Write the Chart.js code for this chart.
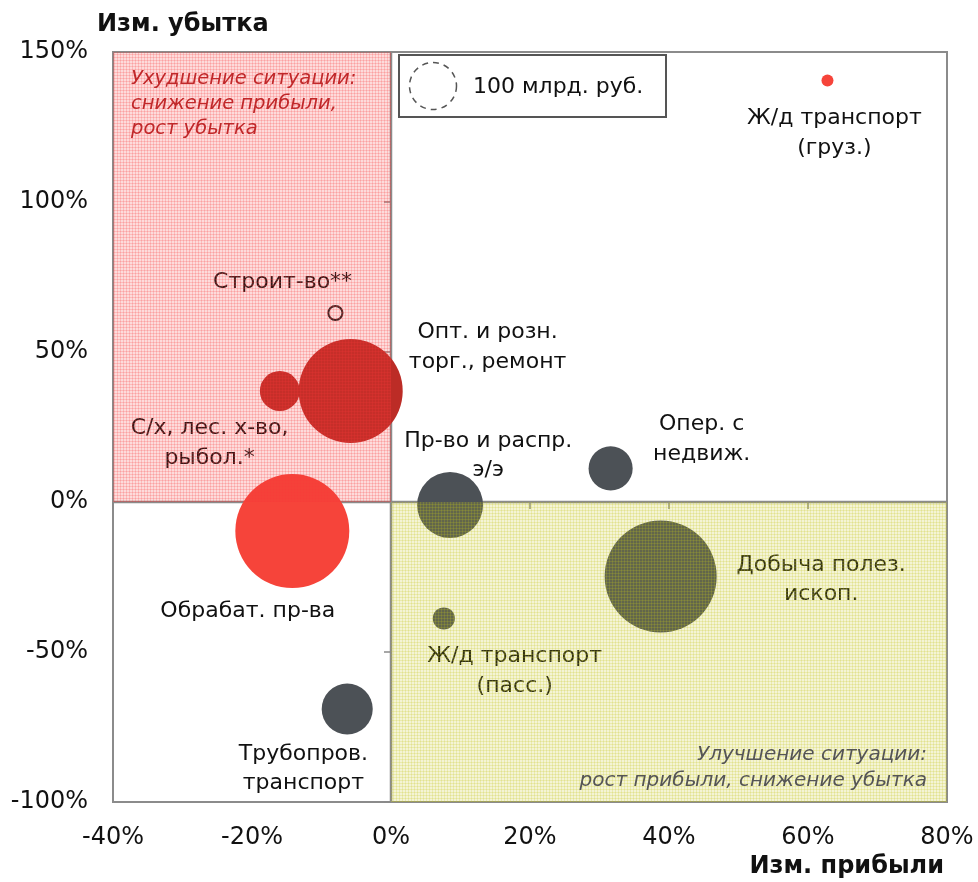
<!DOCTYPE html>
<html>
<head>
<meta charset="utf-8">
<script src="https://cdn.jsdelivr.net/npm/chart.js@4.4.1/dist/chart.umd.min.js"></script>
<style>
  html, body { margin: 0; padding: 0; background: #fff; }
</style>
</head>
<body>
<canvas id="chart" width="978" height="882"></canvas>
<script>
// Data
const sectors = ['Ж/д транспорт (груз.)', 'Строит-во**', 'Опт. и розн. торг., ремонт', 'С/х, лес. х-во, рыбол.*',
    'Обрабат. пр-ва', 'Пр-во и распр. э/э', 'Опер. с недвиж.', 'Добыча полез. ископ.',
    'Ж/д транспорт (пасс.)', 'Трубопров. транспорт'];
const profitChange = [62.8, -8.0, -5.8, -16.0, -14.2, 8.5, 31.6, 38.8, 7.6, -6.3];   // %
const lossChange = [140.5, 63, 37, 37, -9.7, -1, 11.2, -24.8, -38.8, -69];           // %
const lossVolume = [6.5, 9, 490, 72, 588, 197, 88, 568, 22, 118];                     // млрд. руб.
const sectorGroup = ['bright', 'hollow', 'dark', 'dark', 'bright', 'gray', 'gray', 'gray', 'gray', 'gray'];
const xTicks = [-40, -20, 0, 20, 40, 60, 80];
const yTicks = [-100, -50, 0, 50, 100, 150];
const legendValue = 100;

// Label lines and where they sit (data units)
const labelLines = [
    ['Ж/д транспорт', '(груз.)'],
    ['Строит-во**'],
    ['Опт. и розн.', 'торг., ремонт'],
    ['С/х, лес. х-во,', 'рыбол.*'],
    ['Обрабат. пр-ва'],
    ['Пр-во и распр.', 'э/э'],
    ['Опер. с', 'недвиж.'],
    ['Добыча полез.', 'ископ.'],
    ['Ж/д транспорт', '(пасс.)'],
    ['Трубопров.', 'транспорт']
];
const labelPos = [
    [63.8, 123.5], [-15.6, 74], [13.9, 52.3], [-26.1, 20.3], [-20.6, -35.7],
    [14.0, 16], [44.7, 21.5], [61.9, -25.2], [17.8, -55.8], [-12.6, -88.2]
];

// Styles
const FONT = "'DejaVu Sans', 'Noto Sans', sans-serif";
const colors = { bright: '#f6443a', dark: '#bc2c26', gray: '#4c5156', hollow: '#ffffff' };
const PX_PER_100 = 23.5; // bubble radius for 100 млрд. руб.
const radiusFor = v => PX_PER_100 * Math.sqrt(v / legendValue);

function makePattern(base, line) {
    const c = document.createElement('canvas');
    c.width = 3; c.height = 3;
    const g = c.getContext('2d');
    g.fillStyle = base;
    g.fillRect(0, 0, 3, 3);
    g.fillStyle = line;
    g.fillRect(0, 0, 3, 1);
    g.fillRect(0, 0, 1, 3);
    return g.createPattern(c, 'repeat');
}

const decorPlugin = {
    id: 'decor',
    beforeDatasetsDraw(chart) {
        const { ctx, chartArea: a, scales: { x, y } } = chart;
        const x0 = x.getPixelForValue(0), y0 = y.getPixelForValue(0);
        ctx.save();
        ctx.strokeStyle = '#8b8b8b';
        ctx.lineWidth = 2;
        ctx.strokeRect(a.left, a.top, a.right - a.left, a.bottom - a.top);
        ctx.lineWidth = 2.5;
        ctx.beginPath();
        ctx.moveTo(x0, a.top); ctx.lineTo(x0, a.bottom);
        ctx.moveTo(a.left, y0); ctx.lineTo(a.right, y0);
        ctx.stroke();
        ctx.lineWidth = 1.5;
        ctx.beginPath();
        yTicks.forEach(v => { const p = y.getPixelForValue(v); ctx.moveTo(x0 - 7, p); ctx.lineTo(x0, p); });
        xTicks.forEach(v => { const p = x.getPixelForValue(v); ctx.moveTo(p, y0); ctx.lineTo(p, y0 + 7); });
        ctx.stroke();
        ctx.restore();
    },
    afterDatasetsDraw(chart) {
        const { ctx, chartArea: a, scales: { x, y } } = chart;
        const x0 = x.getPixelForValue(0), y0 = y.getPixelForValue(0);

        // sector labels
        ctx.save();
        ctx.font = '22px ' + FONT;
        ctx.fillStyle = '#111';
        ctx.textAlign = 'center';
        ctx.textBaseline = 'middle';
        labelLines.forEach((lines, i) => {
            const px = x.getPixelForValue(labelPos[i][0]);
            const py = y.getPixelForValue(labelPos[i][1]) + 2;
            lines.forEach((t, k) => ctx.fillText(t, px, py + (k - (lines.length - 1) / 2) * 29.5));
        });

        // shaded quadrants drawn over the bubbles
        ctx.fillStyle = makePattern('rgba(245,55,55,0.18)', 'rgba(245,55,55,0.2)');
        ctx.fillRect(a.left, a.top, x0 - a.left, y0 - a.top);
        ctx.fillStyle = makePattern('rgba(195,195,30,0.19)', 'rgba(195,195,30,0.21)');
        ctx.fillRect(x0, y0, a.right - x0, a.bottom - y0);

        // quadrant notes
        ctx.font = 'italic 19.5px ' + FONT;
        ctx.textAlign = 'left';
        ctx.fillStyle = '#c0282a';
        ['Ухудшение ситуации:', 'снижение прибыли,', 'рост убытка'].forEach((t, k) => ctx.fillText(t, a.left + 18, 79 + k * 25));
        ctx.font = 'italic 20px ' + FONT;
        ctx.textAlign = 'right';
        ctx.fillStyle = '#555';
        ['Улучшение ситуации:', 'рост прибыли, снижение убытка'].forEach((t, k) => ctx.fillText(t, a.right - 20, 755 + k * 26));

        // size legend
        ctx.fillStyle = '#fff';
        ctx.fillRect(399, 55, 267, 62);
        ctx.strokeStyle = '#555';
        ctx.lineWidth = 2;
        ctx.strokeRect(399, 55, 267, 62);
        ctx.setLineDash([6, 5]);
        ctx.lineWidth = 1.5;
        ctx.beginPath();
        ctx.arc(433, 86, radiusFor(legendValue), 0, Math.PI * 2);
        ctx.stroke();
        ctx.setLineDash([]);
        ctx.fillStyle = '#111';
        ctx.textAlign = 'left';
        ctx.font = '22px ' + FONT;
        ctx.fillText(legendValue + ' млрд. руб.', 473, 87);

        // axis titles
        ctx.font = 'bold 24px ' + FONT;
        ctx.fillText('Изм. убытка', 97, 25);
        ctx.textAlign = 'right';
        ctx.fillText('Изм. прибыли', 944, 867);
        ctx.restore();
    }
};

const points = sectors.map((s, i) => ({ x: profitChange[i], y: lossChange[i], r: radiusFor(lossVolume[i]) }));

new Chart(document.getElementById('chart'), {
    type: 'bubble',
    data: {
        datasets: [{
            label: 'Отрасли',
            data: points,
            backgroundColor: sectorGroup.map(g => colors[g]),
            borderColor: sectorGroup.map(g => g === 'hollow' ? '#222' : colors[g]),
            borderWidth: sectorGroup.map(g => g === 'hollow' ? 2 : 0),
            clip: false
        }]
    },
    options: {
        responsive: false,
        animation: false,
        layout: { autoPadding: false, padding: { top: 52, right: 31, bottom: 0, left: 0 } },
        plugins: {
            legend: { display: false },
            tooltip: { enabled: false }
        },
        scales: {
            x: {
                type: 'linear',
                min: -40,
                max: 80,
                afterBuildTicks: s => { s.ticks = xTicks.map(v => ({ value: v })); },
                afterFit: s => { s.height = 80; s.paddingLeft = 0; s.paddingRight = 0; },
                grid: { display: false, drawTicks: false },
                border: { display: false },
                ticks: {
                    callback: v => v + '%',
                    color: '#111',
                    font: { family: FONT, size: 24 },
                    padding: 21,
                    maxRotation: 0
                }
            },
            y: {
                type: 'linear',
                min: -100,
                max: 150,
                afterBuildTicks: s => { s.ticks = yTicks.map(v => ({ value: v })); },
                afterFit: s => { s.width = 113; s.paddingTop = 0; s.paddingBottom = 0; },
                grid: { display: false, drawTicks: false },
                border: { display: false },
                ticks: {
                    callback: v => v + '%',
                    color: '#111',
                    font: { family: FONT, size: 24 },
                    padding: 25
                }
            }
        }
    },
    plugins: [decorPlugin]
});
</script>
</body>
</html>
